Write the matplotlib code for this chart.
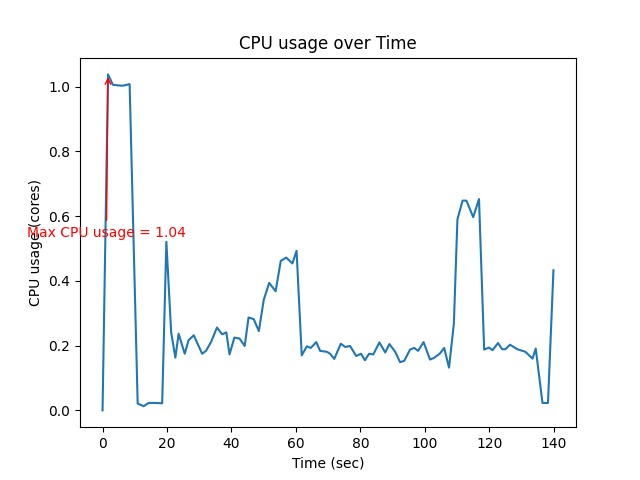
import matplotlib
matplotlib.use('Agg')
import matplotlib.pyplot as plt

# time stamps (sec) and cpu usage (cores)
time_sec = [0, 1.7, 3.2, 4.8, 6.3, 8.4, 10.9, 12.8, 14.3, 16.4, 18.5, 19.8,
            21.3, 22.6, 23.6, 25.5, 26.7, 28.3, 30.9, 32.1, 33.7, 35.5, 37.1,
            38.4, 39.4, 40.9, 42.5, 44.1, 45.3, 46.9, 48.5, 50.0, 51.7, 53.7,
            55.3, 57.0, 58.9, 60.2, 61.8, 63.4, 64.6, 66.3, 67.5, 69.6, 70.6,
            71.9, 73.9, 75.3, 76.8, 78.7, 80.2, 81.4, 82.7, 84.0, 85.9, 87.7,
            89.0, 90.8, 92.3, 93.6, 95.4, 96.7, 97.9, 99.6, 101.6, 102.8,
            104.6, 106.0, 107.5, 109.0, 110.1, 111.7, 112.9, 115.0, 116.8,
            118.4, 119.9, 121.0, 122.7, 124.0, 125.0, 126.4, 128.7, 131.2,
            133.4, 134.4, 136.5, 138.2, 139.9]
cpu_usage = [0.0, 1.038, 1.006, 1.004, 1.003, 1.008, 0.021, 0.013, 0.023,
             0.023, 0.022, 0.521, 0.24, 0.163, 0.237, 0.175, 0.217, 0.232,
             0.175, 0.184, 0.212, 0.256, 0.235, 0.241, 0.173, 0.225, 0.222,
             0.199, 0.287, 0.282, 0.245, 0.341, 0.394, 0.368, 0.462, 0.472,
             0.454, 0.493, 0.170, 0.198, 0.193, 0.211, 0.184, 0.181, 0.175,
             0.159, 0.206, 0.196, 0.199, 0.168, 0.175, 0.155, 0.175, 0.173,
             0.210, 0.179, 0.205, 0.181, 0.149, 0.153, 0.188, 0.193, 0.184,
             0.211, 0.157, 0.162, 0.175, 0.193, 0.132, 0.268, 0.590, 0.648,
             0.648, 0.597, 0.653, 0.188, 0.194, 0.186, 0.208, 0.189, 0.189,
             0.203, 0.189, 0.181, 0.160, 0.191, 0.023, 0.023, 0.433]

plt.figure(figsize=(6.4, 4.8), dpi=100)
plt.plot(time_sec, cpu_usage)

# mark the maximum
max_usage = max(cpu_usage)
max_time = time_sec[cpu_usage.index(max_usage)]
plt.annotate(f'Max CPU usage = {max_usage:.2f}',
             xy=(max_time, max_usage),
             xytext=(max_time - 0.5, 0.536),
             color='red', ha='center',
             arrowprops=dict(arrowstyle='->', color='red'))

plt.title('CPU usage over Time')
plt.xlabel('Time (sec)')
plt.ylabel('CPU usage (cores)')
plt.savefig('out.png')
